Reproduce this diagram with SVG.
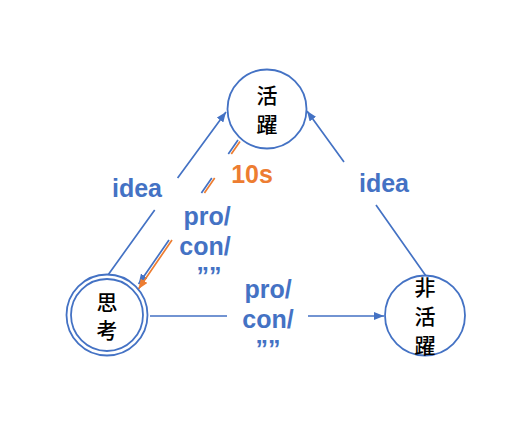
<svg xmlns="http://www.w3.org/2000/svg" width="529" height="437" viewBox="0 0 529 437">
<style>
.node{fill:#ffffff;stroke:#4472C4;stroke-width:1.8}
.jp{font-family:"Noto Sans CJK JP","Noto Sans CJK SC",sans-serif;font-size:21px;font-weight:500;fill:#000000;text-anchor:middle}
.edge{fill:none;stroke:#4472C4;stroke-width:1.7}
.edge-o{fill:none;stroke:#ED7D31;stroke-width:1.7}
.lbl{font-family:"Liberation Sans",Arial,sans-serif;font-weight:bold;font-size:25px;fill:#4472C4;text-anchor:middle}
.lbl-o{font-family:"Liberation Sans",Arial,sans-serif;font-weight:bold;font-size:25px;fill:#ED7D31;text-anchor:middle}
</style>
<defs>
<marker id="ab" markerUnits="userSpaceOnUse" markerWidth="10" markerHeight="8" refX="10" refY="4" orient="auto"><path d="M0,0 L10,4 L0,8 z" fill="#4472C4"/></marker>
<marker id="ao" markerUnits="userSpaceOnUse" markerWidth="10" markerHeight="8" refX="10" refY="4" orient="auto"><path d="M0,0 L10,4 L0,8 z" fill="#ED7D31"/></marker>
</defs>
<rect width="529" height="437" fill="#ffffff"/>
<g id="connectors">
<path class="edge" d="M108,275 L154.7,210 M177.6,178 L226,112" marker-end="url(#ab)"/>
<path class="edge" d="M426,276 L376,205 M344,162 L307,111" marker-end="url(#ab)"/>
<path class="edge" d="M150,316 L227,316 M308,316 L384,316" marker-end="url(#ab)"/>
<path class="edge" d="M238,140 L228.3,154 M211.8,178 L201.4,193 M169,240 L138.6,284" marker-end="url(#ab)"/>
<path class="edge-o" d="M240,141.4 L231.3,154 M214.7,178 L204.4,193 M172,240 L138.5,289" marker-end="url(#ao)"/>
</g>
<g id="labels">
<text class="lbl" x="137" y="197">idea</text>
<text class="lbl" x="384" y="192">idea</text>
<text class="lbl-o" x="252" y="183">10s</text>
<text class="lbl" x="207" y="225">pro/</text>
<text class="lbl" x="205" y="255">con/</text>
<text class="lbl" x="209" y="285">””</text>
<text class="lbl" x="268" y="298">pro/</text>
<text class="lbl" x="268" y="328">con/</text>
<text class="lbl" x="268" y="358">””</text>
</g>
<g id="node-katsuyaku">
<circle class="node" cx="267" cy="109" r="39.5"/>
<text class="jp" x="267" y="103">活</text>
<text class="jp" x="267" y="132">躍</text>
</g>
<g id="node-shikou">
<circle class="node" cx="107" cy="315" r="40.5"/>
<circle class="node" cx="107" cy="315" r="36"/>
<text class="jp" x="107" y="310">思</text>
<text class="jp" x="107" y="337.5">考</text>
</g>
<g id="node-hikatsuyaku">
<circle class="node" cx="425" cy="315.5" r="40"/>
<text class="jp" x="425" y="294.5">非</text>
<text class="jp" x="425" y="323.5">活</text>
<text class="jp" x="425" y="352.5">躍</text>
</g>
</svg>
